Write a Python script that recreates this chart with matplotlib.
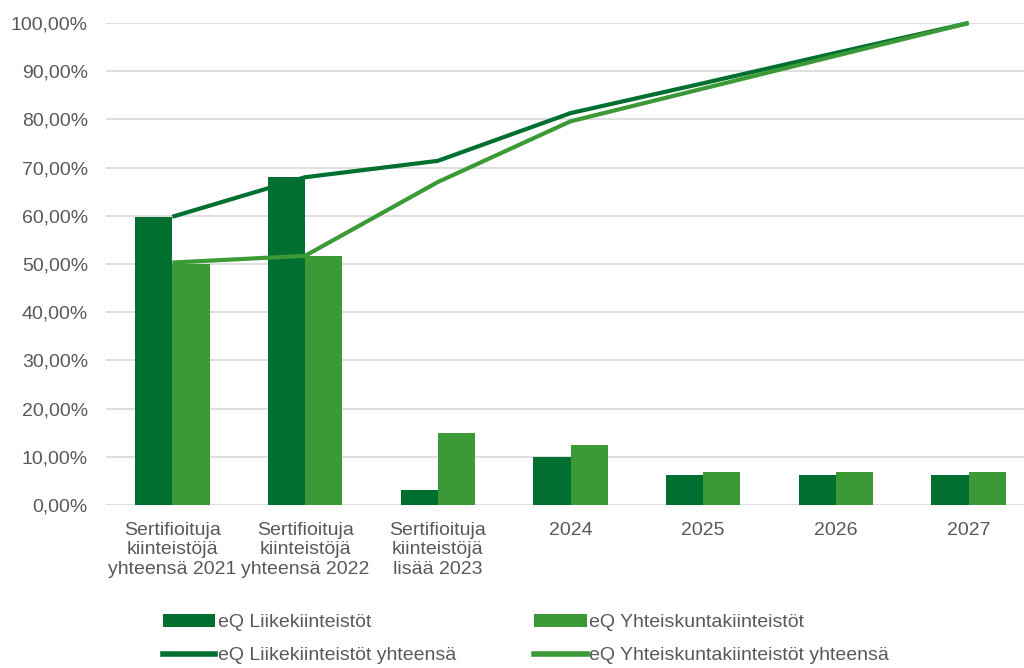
import matplotlib
matplotlib.use("Agg")
import matplotlib.pyplot as plt
import numpy as np
from matplotlib.patches import Patch
from matplotlib.lines import Line2D
from matplotlib.ticker import FuncFormatter

categories = ["Sertifioituja\nkiinteistöjä\nyhteensä 2021", "Sertifioituja\nkiinteistöjä\nyhteensä 2022",
              "Sertifioituja\nkiinteistöjä\nlisää 2023", "2024", "2025", "2026", "2027"]
liike_bars = [59.8, 68.0, 3.1, 10.0, 6.2, 6.2, 6.2]
yhteis_bars = [50.0, 51.7, 15.0, 12.5, 6.8, 6.8, 6.8]
liike_total = [59.8, 68.0, 71.4, 81.3, 87.5, 93.8, 100.0]
yhteis_total = [50.3, 51.7, 67.0, 79.6, 86.4, 93.2, 100.0]
yticks = [0, 10, 20, 30, 40, 50, 60, 70, 80, 90, 100]

dark = "#006F2F"
light = "#3C9A36"
grey = "#595959"

plt.rcParams['font.family'] = ['Liberation Sans', 'DejaVu Sans']

fig = plt.figure(figsize=(10.24, 6.68), dpi=100)
ax = fig.add_axes([106/1024, 163/668, 929/1024, 482/668])

x = np.arange(len(categories))
w = 0.28
ax.bar(x - w/2, liike_bars, width=w, color=dark, zorder=2)
ax.bar(x + w/2, yhteis_bars, width=w, color=light, zorder=2)
ax.plot(x, liike_total, color=dark, lw=3, zorder=3, clip_on=False, solid_capstyle='butt')
ax.plot(x, yhteis_total, color=light, lw=3, zorder=3, clip_on=False, solid_capstyle='butt')

ax.set_xlim(-0.5, len(categories) - 0.5)
ax.set_ylim(0, 100)
ax.set_yticks(yticks)
ax.yaxis.set_major_formatter(FuncFormatter(lambda v, p: f"{v:.2f}".replace(".", ",") + "%"))
ax.set_xticks(x)
ax.set_xticklabels(categories, linespacing=1.2)
ax.tick_params(axis='both', length=0, labelsize=14, labelcolor=grey)
ax.tick_params(axis='y', pad=13)
ax.tick_params(axis='x', pad=12)
ax.grid(axis='y', color="#d9d9d9", lw=1.2, zorder=0)
for s in ax.spines.values():
    s.set_visible(False)

handles = [Patch(facecolor=dark, edgecolor='none'),
           Line2D([0], [0], color=dark, lw=4),
           Patch(facecolor=light, edgecolor='none'),
           Line2D([0], [0], color=light, lw=4)]
labels = ["eQ Liikekiinteistöt", "eQ Liikekiinteistöt yhteensä",
          "eQ Yhteiskuntakiinteistöt", "eQ Yhteiskuntakiinteistöt yhteensä"]
leg = fig.legend(handles, labels, ncol=2, loc='upper left', bbox_to_anchor=(147/1024, 1 - 598/668),
                 frameon=False, fontsize=14, handlelength=2.7, handleheight=0.7, handletextpad=0.15,
                 columnspacing=4.0, labelspacing=0.8, labelcolor=grey, borderpad=0.3)

fig.savefig("out.png", dpi=100)
